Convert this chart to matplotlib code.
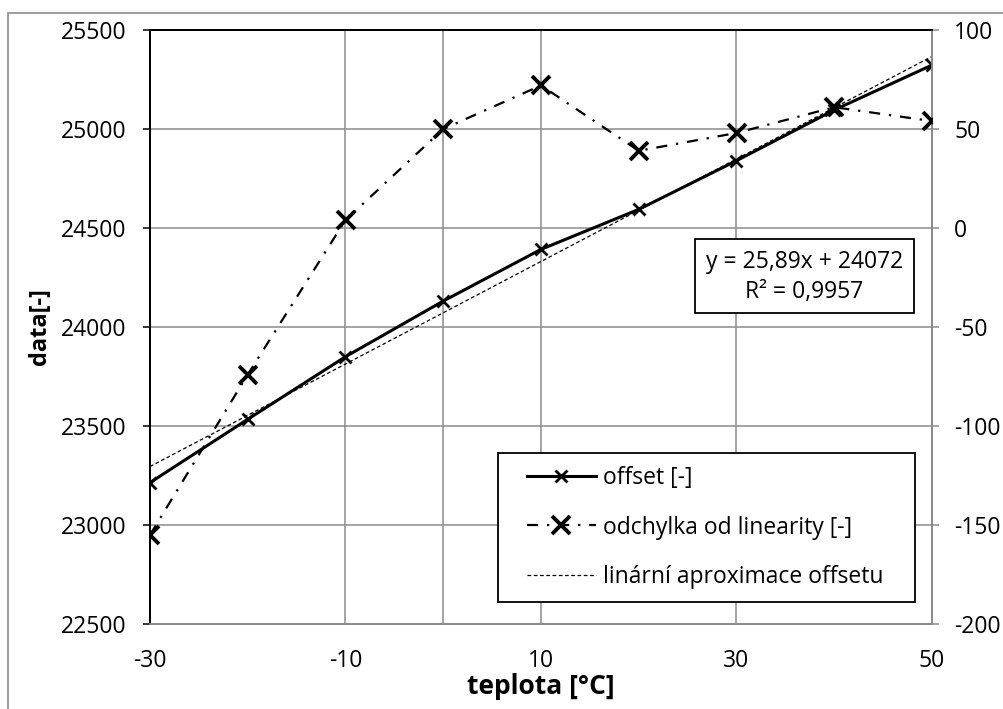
import matplotlib
matplotlib.use("Agg")
import matplotlib.pyplot as plt
from matplotlib.lines import Line2D
from matplotlib.patches import Rectangle
import numpy as np

plt.rcParams['font.family'] = ['Open Sans', 'DejaVu Sans']
plt.rcParams['axes.unicode_minus'] = False

# data
teplota = [-30, -20, -10, 0, 10, 20, 30, 40, 50]
offset = [23214, 23534, 23850, 24131, 24392, 24594, 24840, 25096, 25323]
odchylka = [-155, -74, 4, 50, 72, 39, 48, 61, 54]
trend_slope = 25.89
trend_intercept = 24072

x_ticks = [-30, -10, 10, 30, 50]
extra_vline = [0]
left_ticks = [22500, 23000, 23500, 24000, 24500, 25000, 25500]
right_ticks = [-200, -150, -100, -50, 0, 50, 100]

eq_text = "y = 25,89x + 24072\nR² = 0,9957"
lbl_offset = "offset [-]"
lbl_odch = "odchylka od linearity [-]"
lbl_trend = "linární aproximace offsetu"

W, H = 1004, 709
fig = plt.figure(figsize=(W / 100, H / 100), dpi=100)

# plot area in pixel coords
L, T, R, B = 150, 30, 932, 624
ax = fig.add_axes([L / W, 1 - B / H, (R - L) / W, (B - T) / H])
ax2 = ax.twinx()

grid_c = '#8c8c8c'
fs = 16.5

ax.set_xlim(-30, 50)
ax.set_ylim(22500, 25500)
ax2.set_ylim(-200, 100)

ax.set_xticks(x_ticks)
ax.set_yticks(left_ticks)
ax2.set_yticks(right_ticks)

ax.grid(True, color=grid_c, linewidth=1.1)
for xv in extra_vline:
    ax.axvline(xv, color=grid_c, linewidth=1.1, zorder=0.5)
ax.set_axisbelow(True)

ax.tick_params(axis='x', length=0, pad=18, labelsize=fs)
ax.tick_params(axis='y', length=5, width=1.1, color='black', pad=12, labelsize=fs)
ax2.tick_params(axis='y', length=5, width=1.1, color=grid_c, pad=11, labelsize=fs)

for a in (ax, ax2):
    a.spines['left'].set_color('black')
    a.spines['top'].set_color('black')
    a.spines['right'].set_color(grid_c)
    a.spines['bottom'].set_color(grid_c)
    for s in a.spines.values():
        s.set_linewidth(1.3)

x = np.array(teplota)
ax2.plot(x, odchylka, color='black', linewidth=1.6, dashes=(5, 4, 1, 4),
         marker='x', markersize=13, markeredgewidth=2.8, zorder=3)
ax.plot(x, offset, color='black', linewidth=2.2, marker='x',
        markersize=9, markeredgewidth=2, zorder=3)
ax.plot(x, trend_slope * x + trend_intercept, color='black', linewidth=0.9,
        dashes=(3, 2), zorder=2)

ax.set_xlabel('teplota [°C]', fontsize=19, fontweight='bold', labelpad=0)
ax.set_ylabel('data[-]', fontsize=17, fontweight='bold', labelpad=6)

# trendline equation box
px = lambda xp, yp: (xp / W, 1 - yp / H)
fig.add_artist(Rectangle(px(695, 313), 219 / W, 74 / H, transform=fig.transFigure,
                         fc='white', ec='black', lw=1.3, zorder=5))
fig.text(*px(804.5, 277), eq_text, ha='center', va='center', fontsize=fs,
         linespacing=1.3, zorder=6)

# legend: box drawn separately so the padding can match
fig.add_artist(Rectangle(px(498, 602), 417 / W, 149 / H, transform=fig.transFigure,
                         fc='white', ec='black', lw=1.3, zorder=5))
handles = [
    Line2D([], [], color='black', linewidth=2.2, marker='x', markersize=9, markeredgewidth=2),
    Line2D([], [], color='black', linewidth=1.6, dashes=(5, 4, 1, 4), marker='x',
           markersize=13, markeredgewidth=2.8),
    Line2D([], [], color='black', linewidth=0.9, dashes=(3, 2)),
]
leg = fig.legend(handles, [lbl_offset, lbl_odch, lbl_trend], loc='center left',
                 bbox_to_anchor=px(527, 527.5), fontsize=fs, frameon=False,
                 handlelength=3.0, handletextpad=0.3, labelspacing=1.12,
                 borderpad=0, borderaxespad=0, numpoints=1)
leg.set_zorder(6)

# outer chart border
fig.add_artist(Rectangle((8 / W, -0.1), 1.2, 1.1 - 13 / H, transform=fig.transFigure,
                         fill=False, edgecolor='#8c8c8c', linewidth=1.2))

fig.savefig('out.png', dpi=100)
